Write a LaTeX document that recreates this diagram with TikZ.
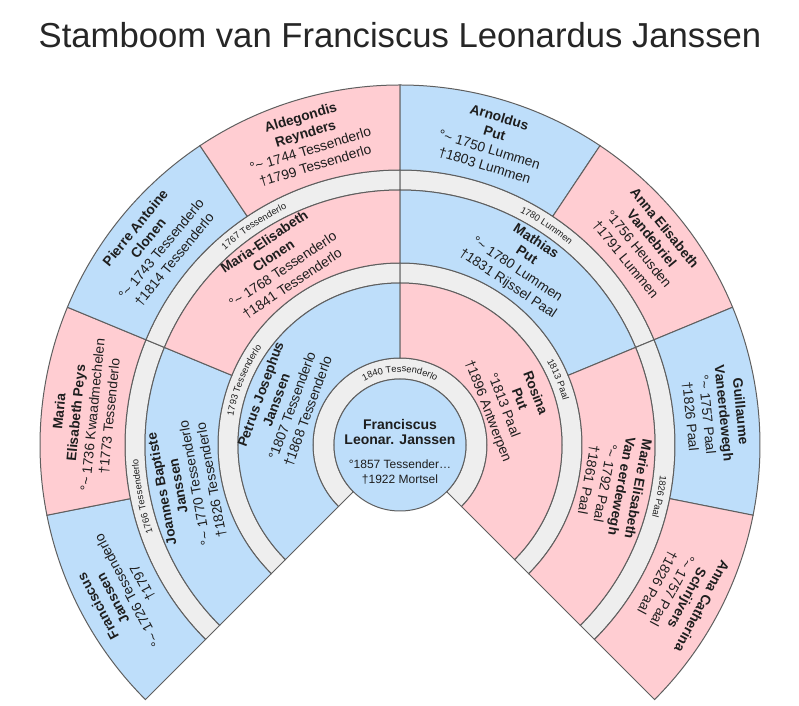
\documentclass[tikz,border=0pt]{standalone}
\usepackage{fontspec}
\setmainfont{Liberation Sans}
\usetikzlibrary{decorations.text}
\definecolor{blauwtje}{RGB}{190,222,250}
\definecolor{roze}{RGB}{255,205,210}
\definecolor{grijsje}{RGB}{238,238,238}
\definecolor{randje}{RGB}{95,95,95}
\definecolor{tekstje}{RGB}{30,30,30}
\newcommand{\huwfont}{\fontsize{7}{8}\selectfont\color{tekstje}}
% vak in de waaier: kleur, hoek1, hoek2, r1, r2
\newcommand{\fanvak}[5]{%
  \draw[vak, fill=#1] (#2:#4) -- (#2:#5) arc[start angle=#2, end angle=#3, radius=#5]
    -- (#3:#4) arc[start angle=#3, end angle=#2, radius=#4] -- cycle;}
% persoon: naam, hoek, straal, tekst
\newcommand{\persoon}[4]{%
  \node[persoonstijl, rotate=#2-90] (#1) at (#2:#3) {#4};}
% huwelijk langs de boog: hoek, straal, tekst
\newcommand{\huwelijk}[3]{%
  \pgfmathsetmacro{\halfboog}{90/#2*180/pi}
  \path[decorate, decoration={text along path, text align=center,
    text={|\huwfont|#3}}] (#1+\halfboog:#2) arc[start angle=#1+\halfboog, end angle=#1-\halfboog, radius=#2];}
\tikzset{
  vak/.style={draw=randje, line width=0.75pt},
  persoonstijl/.style={align=center, inner sep=0pt, text=tekstje,
    font=\fontsize{10.3}{12.6}\selectfont},
}

\begin{document}
\begin{tikzpicture}[x=0.75pt, y=0.75pt]
  \useasboundingbox (-400,-261) rectangle (399,445);
  % titel
  \node[anchor=base, font=\fontsize{26}{30}\selectfont, text=black!85] (titel) at (0,397)
    {Stamboom van Franciscus Leonardus Janssen};
  % huwelijksbanden
  \fanvak{grijsje}{225}{-45}{66}{87}
  \fanvak{grijsje}{225}{90}{162}{182}
  \fanvak{grijsje}{90}{-45}{162}{182}
  \foreach \a in {225,157.5,90,22.5} {
    \pgfmathsetmacro{\b}{\a-67.5}
    \fanvak{grijsje}{\a}{\b}{255}{275}
  }
  % ouders
  \fanvak{blauwtje}{225}{90}{87}{162}
  \fanvak{roze}{90}{-45}{87}{162}
  % grootouders
  \fanvak{blauwtje}{225}{157.5}{182}{255}
  \fanvak{roze}{157.5}{90}{182}{255}
  \fanvak{blauwtje}{90}{22.5}{182}{255}
  \fanvak{roze}{22.5}{-45}{182}{255}
  % overgrootouders
  \foreach \a/\k in {225/blauwtje,191.25/roze,157.5/blauwtje,123.75/roze,
                     90/blauwtje,56.25/roze,22.5/blauwtje,-11.25/roze} {
    \pgfmathsetmacro{\b}{\a-33.75}
    \fanvak{\k}{\a}{\b}{275}{360}
  }
  % middelpunt
  \draw[vak, fill=blauwtje] (0,0) circle[radius=66];
  \node[align=center, text=tekstje, font=\fontsize{9}{11.5}\selectfont] (kind) at (0,-7)
    {{\fontsize{10.5}{13}\selectfont\bfseries Franciscus}\\
     {\fontsize{10.5}{13}\selectfont\bfseries Leonar. Janssen}\\[6pt]
     °1857 Tessender…\\ †1922 Mortsel};

  \persoon{vader}{160}{123}{\textbf{Petrus Josephus}\\ \textbf{Janssen}\\ °1807 Tessenderlo\\ †1868 Tessenderlo}
  \persoon{moeder}{21}{119}{\textbf{Rosina}\\ \textbf{Put}\\ °1813 Paal\\ †1896 Antwerpen}

  \persoon{gv1}{190.5}{217}{\textbf{Joannes Baptiste}\\ \textbf{Janssen}\\ °\textasciitilde{} 1770 Tessenderlo\\ †1826 Tessenderlo}
  \persoon{gm1}{123.75}{219}{\textbf{Maria-Elisabeth}\\ \textbf{Clonen}\\ °\textasciitilde{} 1768 Tessenderlo\\ †1841 Tessenderlo}
  \persoon{gv2}{56.25}{219}{\textbf{Mathias}\\ \textbf{Put}\\ °\textasciitilde{} 1780 Lummen\\ †1831 Rijssel Paal}
  \persoon{gm2}{-10.5}{217}{\textbf{Marie Elisabeth}\\ \textbf{Van eerdewegh}\\ °\textasciitilde{} 1792 Paal\\ †1861 Paal}

  \persoon{ov1}{208.125}{317}{\textbf{Franciscus}\\ \textbf{Janssen}\\ °\textasciitilde{} 1726 Tessenderlo\\ †1797}
  \persoon{om1}{174.375}{317}{\textbf{Maria}\\ \textbf{Elisabeth Peys}\\ °\textasciitilde{} 1736 Kwaadmechelen\\ †1773 Tessenderlo}
  \persoon{ov2}{140.625}{317}{\textbf{Pierre Antoine}\\ \textbf{Clonen}\\ °\textasciitilde{} 1743 Tessenderlo\\ †1814 Tessenderlo}
  \persoon{om2}{106.875}{317}{\textbf{Aldegondis}\\ \textbf{Reynders}\\ °\textasciitilde{} 1744 Tessenderlo\\ †1799 Tessenderlo}
  \persoon{ov3}{73.125}{317}{\textbf{Arnoldus}\\ \textbf{Put}\\ °\textasciitilde{} 1750 Lummen\\ †1803 Lummen}
  \persoon{om3}{39.375}{317}{\textbf{Anna Elisabeth}\\ \textbf{Vandebriel}\\ °1756 Heusden\\ †1791 Lummen}
  \persoon{ov4}{5.625}{317}{\textbf{Guillaume}\\ \textbf{Vaneerdewegh}\\ °\textasciitilde{} 1757 Paal\\ †1826 Paal}
  \persoon{om4}{-28.125}{317}{\textbf{Anna Catherina}\\ \textbf{Schrijvers}\\ °\textasciitilde{} 1757 Paal\\ †1826 Paal}

  % huwelijken
  \huwelijk{90}{73}{1840 Tessenderlo}
  \huwelijk{157.5}{169}{1793 Tessenderlo}
  \huwelijk{22.5}{169}{1813 Paal}
  \huwelijk{191.25}{262}{1766 Tessenderlo}
  \huwelijk{123.75}{262}{1767 Tessenderlo}
  \huwelijk{56.25}{262}{1780 Lummen}
  \huwelijk{-11.25}{262}{1826 Paal}
\end{tikzpicture}
\end{document}
